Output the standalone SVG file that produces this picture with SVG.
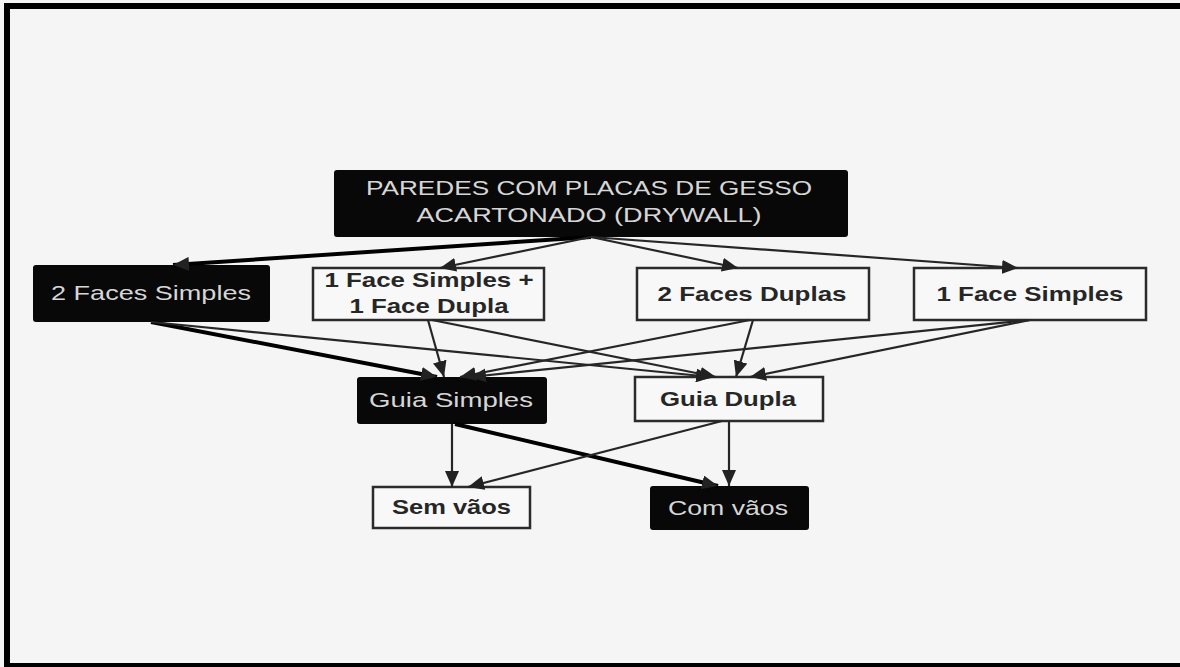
<svg xmlns="http://www.w3.org/2000/svg" width="1180" height="667" viewBox="0 0 1180 667">
<style>
.bg{fill:#f5f5f5}
.frame{fill:none;stroke:#000;stroke-width:6}
.dark rect{fill:#080808}
.light rect{fill:#f8f8f8;stroke:#2b2b2b;stroke-width:2.5}
.dark text{font-family:"Liberation Sans",Arial,sans-serif;font-size:21px;fill:#d6d6d6;text-anchor:middle}
.light text{font-family:"Liberation Sans",Arial,sans-serif;font-size:21px;font-weight:bold;fill:#262626;text-anchor:middle}
.conn line{stroke:#262626;stroke-width:2.2;marker-end:url(#ah)}
.conn line.thick{stroke:#000;stroke-width:4}
</style>
<defs>
<marker id="ah" markerUnits="userSpaceOnUse" markerWidth="16" markerHeight="14" refX="16" refY="7" orient="auto">
<path d="M0,0 L16,7 L0,14 z" fill="#222"/>
</marker>
</defs>
<rect class="bg" x="0" y="0" width="1180" height="667"/>
<rect class="frame" x="7" y="6" width="1190" height="660"/>

<g id="n-paredes" class="dark">
<rect x="334" y="170" width="514" height="67" rx="3"/>
<text x="589" y="195" textLength="446" lengthAdjust="spacingAndGlyphs">PAREDES COM PLACAS DE GESSO</text>
<text x="589" y="222" textLength="345" lengthAdjust="spacingAndGlyphs">ACARTONADO (DRYWALL)</text>
</g>
<g id="n-2faces-simples" class="dark">
<rect x="33" y="265" width="237" height="57" rx="3"/>
<text x="151" y="300" font-size="22" textLength="200" lengthAdjust="spacingAndGlyphs">2 Faces Simples</text>
</g>
<g id="n-1face-simples-dupla" class="light">
<rect x="313" y="268" width="231" height="52"/>
<text x="429" y="287" textLength="209" lengthAdjust="spacingAndGlyphs">1 Face Simples +</text>
<text x="429" y="313" textLength="159" lengthAdjust="spacingAndGlyphs">1 Face Dupla</text>
</g>
<g id="n-2faces-duplas" class="light">
<rect x="637" y="268" width="232" height="52"/>
<text x="752" y="301" textLength="189" lengthAdjust="spacingAndGlyphs">2 Faces Duplas</text>
</g>
<g id="n-1face-simples" class="light">
<rect x="914" y="268" width="232" height="52"/>
<text x="1030" y="301" textLength="187" lengthAdjust="spacingAndGlyphs">1 Face Simples</text>
</g>
<g id="n-guia-simples" class="dark">
<rect x="357" y="377" width="190" height="47" rx="3"/>
<text x="451" y="407" textLength="164" lengthAdjust="spacingAndGlyphs">Guia Simples</text>
</g>
<g id="n-guia-dupla" class="light">
<rect x="635" y="377" width="188" height="44"/>
<text x="728" y="406" textLength="136" lengthAdjust="spacingAndGlyphs">Guia Dupla</text>
</g>
<g id="n-sem-vaos" class="light">
<rect x="373" y="487" width="157" height="41"/>
<text x="451.5" y="514" textLength="119" lengthAdjust="spacingAndGlyphs">Sem vãos</text>
</g>
<g id="n-com-vaos" class="dark">
<rect x="650" y="486" width="159" height="44" rx="3"/>
<text x="728" y="515" textLength="120" lengthAdjust="spacingAndGlyphs">Com vãos</text>
</g>

<g id="connectors" class="conn">
<line class="thick" x1="591" y1="237" x2="173" y2="265"/>
<line x1="591" y1="237" x2="440" y2="268"/>
<line x1="591" y1="237" x2="738" y2="268"/>
<line x1="591" y1="237" x2="1018" y2="268"/>
<line class="thick" x1="151" y1="322" x2="437" y2="377"/>
<line x1="151" y1="322" x2="712" y2="377"/>
<line x1="428" y1="320" x2="444" y2="377"/>
<line x1="432" y1="320" x2="716" y2="377"/>
<line x1="753" y1="320" x2="736" y2="377"/>
<line x1="750" y1="320" x2="460" y2="377"/>
<line x1="1030" y1="320" x2="470" y2="377"/>
<line x1="1030" y1="320" x2="750" y2="377"/>
<line x1="452" y1="424" x2="452" y2="487"/>
<line class="thick" x1="455" y1="424" x2="718" y2="486"/>
<line x1="729" y1="421" x2="729" y2="486"/>
<line x1="722" y1="421" x2="468" y2="487"/>
</g>
</svg>
